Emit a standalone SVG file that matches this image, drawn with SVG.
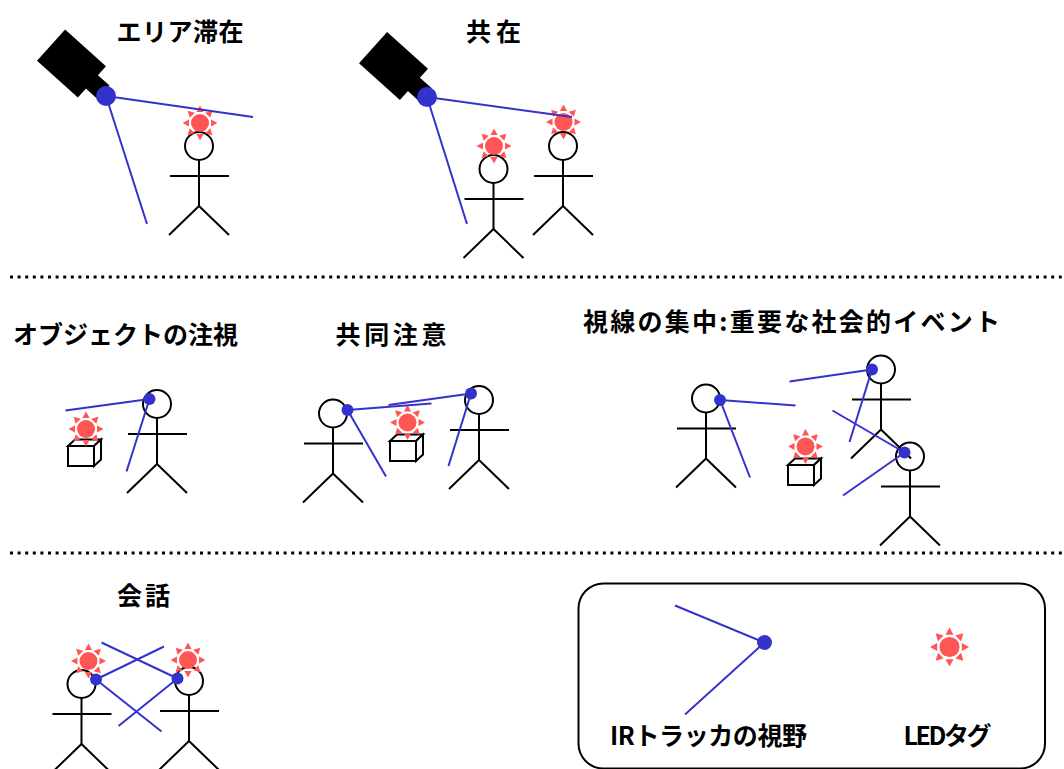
<svg xmlns="http://www.w3.org/2000/svg" xmlns:xlink="http://www.w3.org/1999/xlink" width="1064" height="769" viewBox="0 0 1064 769">
  <style>
    .title { font-family: "Noto Sans CJK JP", "Noto Sans", sans-serif; font-weight: bold; font-size: 25px; fill: #000; text-anchor: middle; }
    .fig { fill: none; stroke: #000; stroke-width: 2; }
    .ray { fill: none; stroke: #3333cc; stroke-width: 2; }
    .eye { fill: #3333cc; }
    .led { fill: #ff5555; }
    .sep { stroke: #000; stroke-width: 3; stroke-dasharray: 3 4.6; }
  </style>
  <defs>
    <!-- stick figure, head centred on the origin -->
    <g id="person" class="fig">
      <circle cx="0" cy="0" r="14"/>
      <line x1="0" y1="14" x2="0" y2="60"/>
      <line x1="-29" y1="30" x2="30" y2="30"/>
      <line x1="0" y1="60" x2="-30" y2="89"/>
      <line x1="0" y1="60" x2="30" y2="89"/>
    </g>
    <!-- LED tag: disc with eight rays -->
    <polygon id="spike" points="-3.6,-11 3.6,-11 0,-17.5"/>
    <g id="sun" class="led">
      <circle r="9"/>
      <use xlink:href="#spike"/>
      <use xlink:href="#spike" transform="rotate(45)"/>
      <use xlink:href="#spike" transform="rotate(90)"/>
      <use xlink:href="#spike" transform="rotate(135)"/>
      <use xlink:href="#spike" transform="rotate(180)"/>
      <use xlink:href="#spike" transform="rotate(225)"/>
      <use xlink:href="#spike" transform="rotate(270)"/>
      <use xlink:href="#spike" transform="rotate(315)"/>
    </g>
    <!-- small cube, front face top-left at the origin -->
    <g id="box" fill="#fff" stroke="#000" stroke-width="2" stroke-linejoin="miter">
      <rect x="0" y="0" width="26" height="20"/>
      <polygon points="0,0 7,-6.5 33,-6.5 26,0"/>
      <polygon points="26,0 33,-6.5 33,13.5 26,20"/>
    </g>
    <!-- ceiling camera body -->
    <g id="camera" fill="#000">
      <rect x="-27.5" y="-21" width="55" height="42"/>
      <rect x="26" y="-9" width="17" height="18"/>
    </g>
  </defs>

  <!-- section separators -->
  <g id="separators">
    <line class="sep" x1="10" y1="277" x2="1064" y2="277"/>
    <line class="sep" x1="10" y1="553" x2="1064" y2="553"/>
  </g>

  <!-- titles -->
  <g id="titles">
    <text class="title" x="180" y="41" textLength="127">エリア滞在</text>
    <text class="title" x="493.5" y="41" textLength="55">共在</text>
    <text class="title" x="125.5" y="343.5" textLength="225">オブジェクトの注視</text>
    <text class="title" x="391" y="344" textLength="111">共同注意</text>
    <text class="title" x="791.5" y="331" textLength="417">視線の集中:重要な社会的イベント</text>
    <text class="title" x="143.5" y="605" textLength="53">会話</text>
  </g>

  <!-- area stay -->
  <g id="camera1">
    <use xlink:href="#camera" transform="translate(71.5,63.5) rotate(42)"/>
  </g>
  <g id="person1"><use xlink:href="#person" x="199" y="146"/><use xlink:href="#sun" x="200" y="123"/></g>

  <!-- co-presence -->
  <g id="camera2">
    <use xlink:href="#camera" transform="translate(393.5,66) rotate(42)"/>
  </g>
  <g id="person2a"><use xlink:href="#person" x="493.5" y="169"/><use xlink:href="#sun" x="494" y="146"/></g>
  <g id="person2b"><use xlink:href="#person" x="563" y="146"/><use xlink:href="#sun" x="563.5" y="122"/></g>

  <!-- object gaze -->
  <g id="box3"><use xlink:href="#box" x="68" y="446"/><use xlink:href="#sun" x="86" y="429"/></g>
  <g id="person3"><use xlink:href="#person" x="157" y="404"/></g>

  <!-- joint attention -->
  <g id="person4a"><use xlink:href="#person" x="333" y="413.5"/></g>
  <g id="box4"><use xlink:href="#box" x="390" y="441"/><use xlink:href="#sun" x="407.5" y="422.5"/></g>
  <g id="person4b"><use xlink:href="#person" x="479" y="400"/></g>

  <!-- focus of attention -->
  <g id="person5a"><use xlink:href="#person" x="706" y="398.5"/></g>
  <g id="box5"><use xlink:href="#box" x="788" y="465"/><use xlink:href="#sun" x="805.5" y="446.5"/></g>
  <g id="person5b"><use xlink:href="#person" x="881" y="369.5"/></g>
  <g id="person5c"><use xlink:href="#person" x="910" y="456.5"/></g>

  <!-- conversation -->
  <g id="person6a"><use xlink:href="#person" x="81.5" y="684"/><use xlink:href="#sun" x="88.5" y="661"/></g>
  <g id="person6b"><use xlink:href="#person" x="189" y="681"/><use xlink:href="#sun" x="188" y="660"/></g>

  <!-- legend -->
  <g id="legend">
    <rect x="578.5" y="583.5" width="466.5" height="185" rx="25" ry="25" fill="none" stroke="#000" stroke-width="2"/>
    <text class="title" x="708.5" y="744.5" textLength="197">IRトラッカの視野</text>
    <text class="title" x="947.5" y="744.5" textLength="88">LEDタグ</text>
    <use xlink:href="#sun" transform="translate(949.5,647) scale(1.12)"/>
  </g>

  <!-- IR tracker fields of view -->
  <g id="connectors">
    <line class="ray" x1="106" y1="96" x2="253" y2="117"/>
    <line class="ray" x1="106" y1="96" x2="147" y2="224"/>
    <circle class="eye" cx="106" cy="96" r="10"/>

    <line class="ray" x1="427" y1="97" x2="572" y2="117"/>
    <line class="ray" x1="427" y1="97" x2="467" y2="224"/>
    <circle class="eye" cx="427" cy="97" r="10"/>

    <line class="ray" x1="149.5" y1="399" x2="65.5" y2="410.5"/>
    <line class="ray" x1="149.5" y1="399" x2="126.5" y2="471.5"/>
    <circle class="eye" cx="149.5" cy="399" r="6"/>

    <line class="ray" x1="347.5" y1="410" x2="431.5" y2="403.5"/>
    <line class="ray" x1="347.5" y1="410" x2="386" y2="476.5"/>
    <circle class="eye" cx="347.5" cy="410" r="6"/>
    <line class="ray" x1="471" y1="393.5" x2="388.5" y2="405"/>
    <line class="ray" x1="471" y1="393.5" x2="448.5" y2="466"/>
    <circle class="eye" cx="471" cy="393.5" r="6"/>

    <line class="ray" x1="720" y1="400" x2="795.5" y2="405.5"/>
    <line class="ray" x1="720" y1="400" x2="750" y2="477.5"/>
    <circle class="eye" cx="720" cy="400" r="6"/>
    <line class="ray" x1="872" y1="369.5" x2="789.5" y2="381.5"/>
    <line class="ray" x1="872" y1="369.5" x2="849.5" y2="442"/>
    <circle class="eye" cx="872" cy="369.5" r="6"/>
    <line class="ray" x1="904.5" y1="452.5" x2="832.5" y2="410.5"/>
    <line class="ray" x1="904.5" y1="452.5" x2="843" y2="495.5"/>
    <circle class="eye" cx="904.5" cy="452.5" r="6"/>

    <line class="ray" x1="96" y1="679.5" x2="164" y2="646.5"/>
    <line class="ray" x1="96" y1="679.5" x2="161.5" y2="731.5"/>
    <circle class="eye" cx="96" cy="679.5" r="6"/>
    <line class="ray" x1="177.5" y1="678.5" x2="101.5" y2="642.5"/>
    <line class="ray" x1="177.5" y1="678.5" x2="118.5" y2="726"/>
    <circle class="eye" cx="177.5" cy="678.5" r="6"/>

    <line class="ray" x1="764.5" y1="642.5" x2="675" y2="605.5"/>
    <line class="ray" x1="764.5" y1="642.5" x2="685" y2="714.5"/>
    <circle class="eye" cx="764.5" cy="642.5" r="7.5"/>
  </g>
</svg>
